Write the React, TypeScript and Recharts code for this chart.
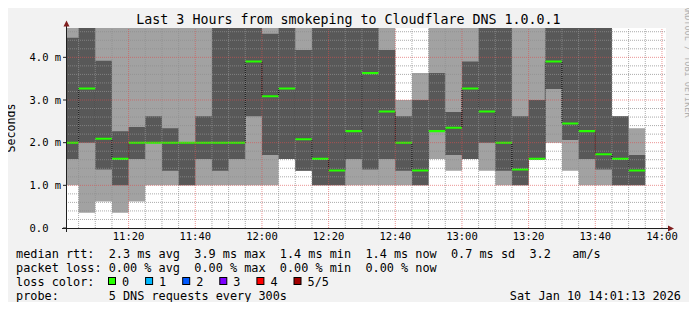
import { Area, ComposedChart, ReferenceLine, XAxis, YAxis } from "recharts";

const WIDTH = 697;
const HEIGHT = 310;
const MONO = "'DejaVu Sans Mono', monospace";

// 5 minute buckets, minutes after 11:00 (graph runs 11:01:13 .. 14:01:13)
const bucketStart = [
  0, 5, 10, 15, 20, 25, 30, 35, 40, 45, 50, 55, 60, 65, 70, 75, 80, 85, 90,
  95, 100, 105, 110, 115, 120, 125, 130, 135, 140, 145, 150, 155, 160, 165, 170,
];

// sorted pings per bucket, in ms (values above 4.7 are off the top of the graph)
const ping1 = [
  1.0, 0.36, 0.62, 0.36, 0.62, 1.0, 1.0, 1.0, 1.0, 1.0, 1.0, 1.0, 1.0, 1.62,
  1.34, 1.0, 1.0, 1.0, 1.0, 1.0, 1.0, 1.0, 1.62, 1.34, 1.62, 1.34, 1.0, 1.0,
  1.62, 2.0, 1.34, 1.0, 1.0, 1.0, 1.0,
];
const ping2 = [
  1.62, 2.0, 1.37, 1.0, 1.62, 2.0, 1.34, 1.0, 1.62, 1.34, 1.62, 2.62, 1.71,
  1.62, 1.34, 1.0, 1.0, 1.62, 1.37, 1.62, 1.34, 1.0, 2.27, 1.71, 1.62, 2.0,
  1.34, 1.0, 1.62, 3.26, 2.06, 1.62, 1.37, 1.0, 1.0,
];
const medianRtt = [
  2.0, 3.27, 2.09, 1.62, 2.0, 2.0, 2.0, 2.0, 2.0, 2.0, 2.0, 3.9, 3.09, 3.27,
  2.08, 1.62, 1.35, 2.27, 3.63, 2.73, 2.0, 1.35, 2.27, 2.35, 3.27, 2.73, 2.0,
  1.37, 1.62, 3.9, 2.45, 2.27, 1.73, 1.62, 1.35,
];
const ping4 = [
  4.46, 5.0, 3.92, 2.27, 2.37, 2.62, 2.34, 2.0, 2.62, 5.0, 5.0, 5.0, 4.55,
  5.0, 4.17, 5.0, 5.0, 5.0, 5.0, 4.17, 2.62, 3.0, 3.63, 2.72, 3.9, 5.0, 5.0,
  2.62, 3.0, 5.0, 5.0, 5.0, 5.0, 2.62, 1.71,
];
const ping5 = [
  5.0, 5.0, 5.0, 5.0, 5.0, 5.0, 5.0, 5.0, 5.0, 5.0, 5.0, 5.0, 5.0, 5.0, 5.0,
  5.0, 5.0, 5.0, 5.0, 5.0, 3.0, 3.63, 5.0, 5.0, 5.0, 5.0, 5.0, 5.0, 5.0, 5.0,
  5.0, 5.0, 5.0, 2.62, 2.34,
];

const xDomain = [73 / 60, 180 + 73 / 60];
const xTicks = [20, 40, 60, 80, 100, 120, 140, 160, 180];
const xTickLabels = [
  "11:20", "11:40", "12:00", "12:20", "12:40", "13:00", "13:20", "13:40", "14:00",
];
const yTicks = [0, 1, 2, 3, 4];
const yTickLabels = ["0.0", "1.0 m", "2.0 m", "3.0 m", "4.0 m"];
const yMax = 4.6875;

const lossLabels = ["0", "1", "2", "3", "4", "5/5"];
const lossColors = ["#26ff00", "#00b8ff", "#0059ff", "#7e00ff", "#ff0000", "#a10000"];

const legendRows = [
  "median rtt:  2.3 ms avg  3.9 ms max  1.4 ms min  1.4 ms now  0.7 ms sd  3.2   am/s",
  "packet loss: 0.00 % avg  0.00 % max  0.00 % min  0.00 % now",
  "loss color:",
  "probe:       5 DNS requests every 300s",
];
const stamp = "Sat Jan 10 14:01:13 2026";

const rows = bucketStart.map((t, i) => ({
  t,
  smoke: [ping1[i], ping5[i]],
  core: [ping2[i], ping4[i]],
  median: medianRtt[i],
  band: [medianRtt[i] - 0.024, medianRtt[i] + 0.024],
}));
// close the last step
rows.push({ ...rows[rows.length - 1], t: bucketStart[bucketStart.length - 1] + 5 });

const GRID = "rgba(143,143,143,0.75)";
const MGRID = "rgba(222,79,79,0.6)";

const minorY: number[] = [];
for (let k = 1; k * 0.2 < yMax; k++) if (k % 5 !== 0) minorY.push(k * 0.2);
const minorX: number[] = [];
for (let t = 5; t <= 180; t += 5) if (t % 20 !== 0) minorX.push(t);

function YTick({ x, y, payload }: any) {
  const label = yTickLabels[yTicks.indexOf(payload.value)];
  return (
    <text x={x - 30.5} y={y} dy="0.36em" fontFamily={MONO} fontSize={10.5} fill="#000">
      {label}
    </text>
  );
}

export default function App() {
  return (
    <div
      style={{
        position: "relative",
        width: WIDTH,
        height: HEIGHT,
        background: "#f2f2f2",
        margin: -8,
      }}
    >
      <div
        style={{
          position: "absolute",
          left: 66,
          top: 28,
          width: 600,
          height: 200,
          background: "#ffffff",
        }}
      />
      <div style={{ position: "absolute", left: 0, top: 0 }}>
        <ComposedChart
          width={WIDTH}
          height={HEIGHT}
          data={rows}
          margin={{ top: 28, right: 31, bottom: 62, left: 6 }}
        >
          <XAxis
            dataKey="t"
            type="number"
            domain={xDomain}
            allowDataOverflow
            ticks={xTicks}
            interval={0}
            tickFormatter={(v: number) => xTickLabels[xTicks.indexOf(v)]}
            axisLine={false}
            tickLine={false}
            tickSize={0}
            tickMargin={5}
            height={20}
            tick={{ fontFamily: MONO, fontSize: 10.5, fill: "#000" }}
          />
          <YAxis
            type="number"
            domain={[0, yMax]}
            allowDataOverflow
            ticks={yTicks}
            interval={0}
            width={60}
            axisLine={false}
            tickSize={3}
            tickMargin={3}
            tickLine={{ stroke: "#1f1f1f" }}
            tick={<YTick />}
          />
          <Area
            dataKey="smoke"
            type="stepAfter"
            stroke="none"
            fill="#a2a2a2"
            fillOpacity={1}
            dot={false}
            activeDot={false}
            isAnimationActive={false}
          />
          <Area
            dataKey="core"
            type="stepAfter"
            stroke="none"
            fill="#585858"
            fillOpacity={1}
            dot={false}
            activeDot={false}
            isAnimationActive={false}
          />
          {minorY.map((v) => (
            <ReferenceLine key={`gy${v}`} y={v} stroke={GRID} strokeDasharray="1 1" />
          ))}
          {minorX.map((v) => (
            <ReferenceLine key={`gx${v}`} x={v} stroke={GRID} strokeDasharray="1 1" />
          ))}
          {yTicks.slice(1).map((v) => (
            <ReferenceLine key={`my${v}`} y={v} stroke={MGRID} strokeDasharray="1 1" />
          ))}
          {xTicks.map((v) => (
            <ReferenceLine key={`mx${v}`} x={v} stroke={MGRID} strokeDasharray="1 1" />
          ))}
          <Area
            dataKey="median"
            type="stepAfter"
            stroke="#000"
            strokeWidth={1}
            strokeDasharray="1 1"
            fill="none"
            dot={false}
            activeDot={false}
            isAnimationActive={false}
          />
          <Area
            dataKey="band"
            type="stepAfter"
            stroke="none"
            fill={lossColors[0]}
            fillOpacity={1}
            dot={false}
            activeDot={false}
            isAnimationActive={false}
          />
        </ComposedChart>
      </div>
      <svg
        width={WIDTH}
        height={HEIGHT}
        style={{ position: "absolute", left: 0, top: 0, pointerEvents: "none" }}
      >
        <rect x={0} y={0} width={WIDTH} height={2} fill="#cfcfcf" />
        <rect x={0} y={0} width={2} height={HEIGHT} fill="#cfcfcf" />
        <rect x={0} y={HEIGHT - 2} width={WIDTH} height={2} fill="#9e9e9e" />
        <rect x={WIDTH - 2} y={0} width={2} height={HEIGHT} fill="#9e9e9e" />

        <text x={348.5} y={24} textAnchor="middle" fontFamily={MONO} fontSize={13.3} fill="#000">
          Last 3 Hours from smokeping to Cloudflare DNS 1.0.0.1
        </text>
        <text
          x={15}
          y={128}
          textAnchor="middle"
          transform="rotate(-90 15 128)"
          fontFamily={MONO}
          fontSize={11.6}
          fill="#000"
        >
          Seconds
        </text>
        <text
          x={684.5}
          y={5}
          transform="rotate(90 684.5 5)"
          fontFamily={MONO}
          fontSize={8.5}
          fill="#b0b0b0"
        >
          RRDTOOL / TOBI OETIKER
        </text>

        {/* axes */}
        <line x1={62} y1={228.5} x2={670} y2={228.5} stroke="#1f1f1f" />
        <line x1={66.5} y1={232} x2={66.5} y2={25} stroke="#1f1f1f" />
        <polygon points="668,225.5 674,228.5 668,231.5" fill="#801f1f" />
        <polygon points="63.5,26.5 66.5,20.5 69.5,26.5" fill="#801f1f" />

        {legendRows.map((row, i) => (
          <text
            key={row}
            x={16}
            y={258 + i * 14}
            fontFamily={MONO}
            fontSize={11.85}
            fill="#000"
            style={{ whiteSpace: "pre" }}
          >
            {row}
          </text>
        ))}
        {lossLabels.map((label, i) => (
          <g key={label}>
            <rect
              x={108.5 + i * 37.1}
              y={277.5}
              width={7}
              height={7}
              fill={lossColors[i]}
              stroke="#000"
            />
            <text x={122 + i * 37.1} y={286} fontFamily={MONO} fontSize={11.85} fill="#000">
              {label}
            </text>
          </g>
        ))}
        <text x={681} y={300} textAnchor="end" fontFamily={MONO} fontSize={11.85} fill="#000">
          {stamp}
        </text>
      </svg>
    </div>
  );
}
